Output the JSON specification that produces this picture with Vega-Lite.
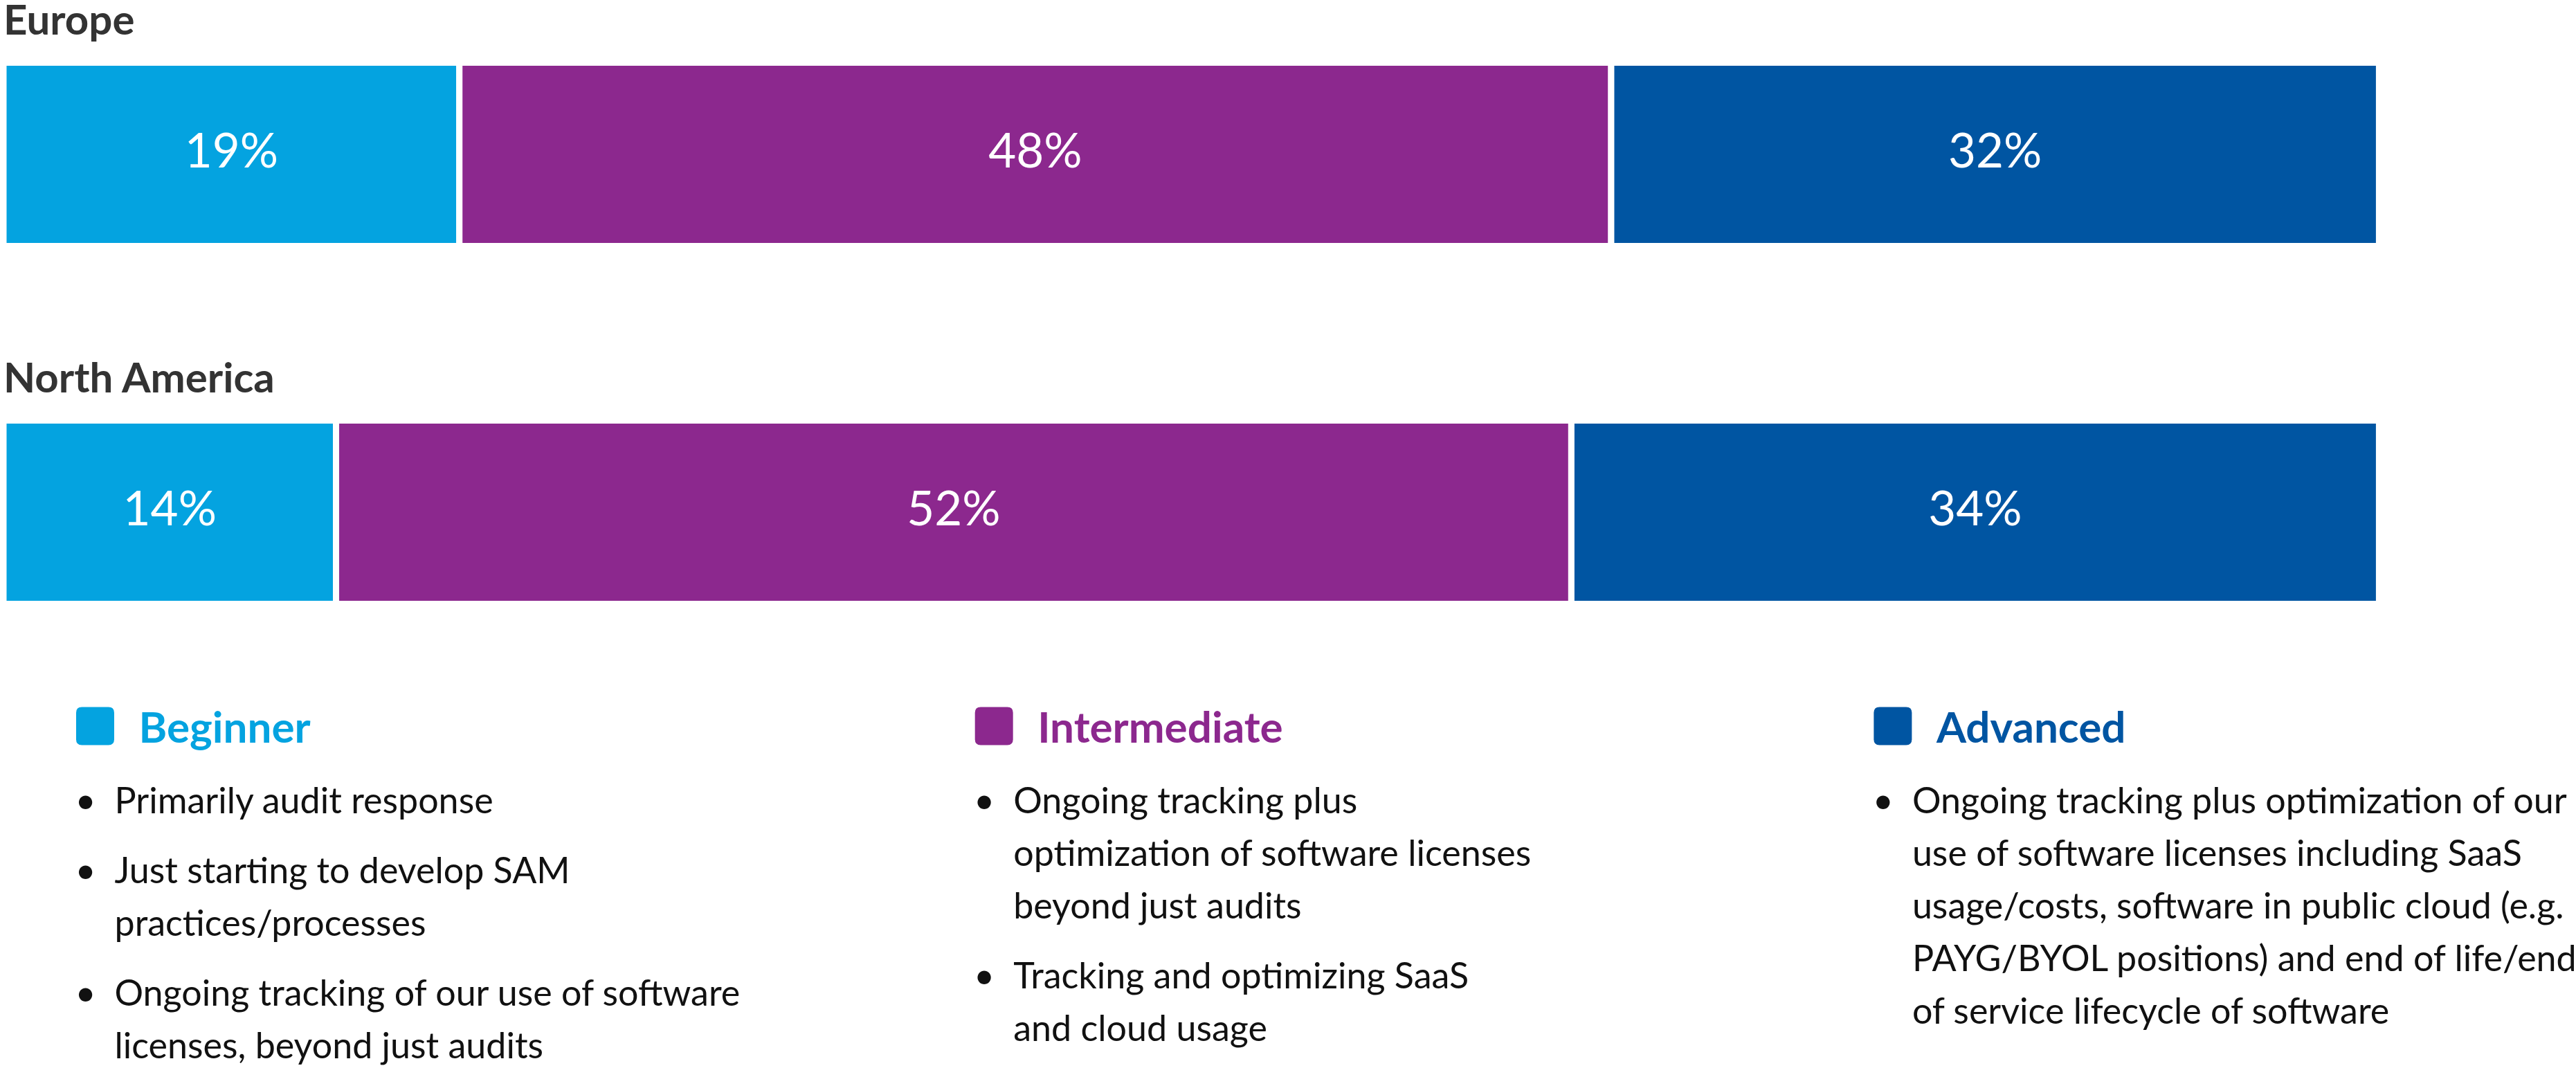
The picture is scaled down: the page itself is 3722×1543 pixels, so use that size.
{
  "$schema": "https://vega.github.io/schema/vega-lite/v6.json",
  "width": 3722,
  "height": 1543,
  "autosize": {"type": "fit", "contains": "padding"},
  "padding": 0,
  "background": "white",
  "config": {"view": {"stroke": null}, "font": "Lato", "text": {"font": "Lato"}},
  "datasets": {
    "shares": [
      {"region": "Europe", "level": "Beginner", "rank": 1, "share": 0.19},
      {"region": "Europe", "level": "Intermediate", "rank": 2, "share": 0.48},
      {"region": "Europe", "level": "Advanced", "rank": 3, "share": 0.32},
      {"region": "North America", "level": "Beginner", "rank": 1, "share": 0.14},
      {"region": "North America", "level": "Intermediate", "rank": 2, "share": 0.52},
      {"region": "North America", "level": "Advanced", "rank": 3, "share": 0.34}
    ],
    "regions": [{"region": "Europe"}, {"region": "North America"}],
    "levels": [{"level": "Beginner"}, {"level": "Intermediate"}, {"level": "Advanced"}],
    "notes": [
      {"level": "Beginner", "item": 1, "line": 1, "bullet": "•", "text": "Primarily audit response"},
      {"level": "Beginner", "item": 2, "line": 2, "bullet": "•", "text": "Just starting to develop SAM"},
      {"level": "Beginner", "item": 2, "line": 3, "bullet": "", "text": "practices/processes"},
      {"level": "Beginner", "item": 3, "line": 4, "bullet": "•", "text": "Ongoing tracking of our use of software"},
      {"level": "Beginner", "item": 3, "line": 5, "bullet": "", "text": "licenses, beyond just audits"},
      {"level": "Intermediate", "item": 1, "line": 1, "bullet": "•", "text": "Ongoing tracking plus"},
      {"level": "Intermediate", "item": 1, "line": 2, "bullet": "", "text": "optimization of software licenses"},
      {"level": "Intermediate", "item": 1, "line": 3, "bullet": "", "text": "beyond just audits"},
      {"level": "Intermediate", "item": 2, "line": 4, "bullet": "•", "text": "Tracking and optimizing SaaS"},
      {"level": "Intermediate", "item": 2, "line": 5, "bullet": "", "text": "and cloud usage"},
      {"level": "Advanced", "item": 1, "line": 1, "bullet": "•", "text": "Ongoing tracking plus optimization of our"},
      {"level": "Advanced", "item": 1, "line": 2, "bullet": "", "text": "use of software licenses including SaaS"},
      {"level": "Advanced", "item": 1, "line": 3, "bullet": "", "text": "usage/costs, software in public cloud (e.g."},
      {"level": "Advanced", "item": 1, "line": 4, "bullet": "", "text": "PAYG/BYOL positions) and end of life/end"},
      {"level": "Advanced", "item": 1, "line": 5, "bullet": "", "text": "of service lifecycle of software"}
    ]
  },
  "layer": [
    {
      "layer": [
        {
          "data": {"name": "shares"},
          "mark": {"type": "bar", "stroke": "white", "strokeWidth": 9},
          "encoding": {
            "y": {"field": "region", "type": "nominal", "scale": {"type": "band", "domain": ["Europe", "North America"], "paddingInner": 0.4874, "paddingOuter": 0.736, "align": 0.119}, "axis": null},
            "x": {"field": "share", "type": "quantitative", "stack": "normalize", "scale": {"domain": [0, 1.08], "nice": false, "zero": true}, "axis": null},
            "color": {"field": "level", "type": "nominal", "scale": {"domain": ["Beginner", "Intermediate", "Advanced"], "range": ["#04A3E0", "#8C288E", "#0055A2"]}, "legend": null},
            "order": {"field": "rank", "type": "quantitative"}
          }
        },
        {
          "data": {"name": "shares"},
          "mark": {"type": "text", "color": "white", "fontSize": 69, "baseline": "alphabetic", "dy": 19},
          "encoding": {
            "y": {"field": "region", "type": "nominal"},
            "x": {"field": "share", "type": "quantitative", "stack": "normalize", "bandPosition": 0.5},
            "detail": {"field": "level"},
            "order": {"field": "rank", "type": "quantitative"},
            "text": {"field": "share", "type": "quantitative", "format": ".0%"}
          }
        },
        {
          "data": {"name": "regions"},
          "mark": {"type": "text", "align": "left", "baseline": "alphabetic", "fontSize": 60, "fontWeight": "bold", "color": "#333333", "dy": -41},
          "encoding": {
            "y": {"field": "region", "type": "nominal", "bandPosition": 0},
            "x": {"datum": 0, "type": "quantitative"},
            "text": {"field": "region"}
          }
        }
      ]
    },
    {
      "layer": [
        {
          "data": {"name": "levels"},
          "mark": {"type": "point", "filled": true, "opacity": 1, "size": 3025, "shape": "M-0.7,-1H0.7Q1,-1 1,-0.7V0.7Q1,1 0.7,1H-0.7Q-1,1 -1,0.7V-0.7Q-1,-1 -0.7,-1Z"},
          "encoding": {
            "x": {"field": "level", "type": "nominal", "scale": {"type": "point", "domain": ["Beginner", "Intermediate", "Advanced"], "padding": 0.4272, "align": 0.1194}, "axis": null},
            "y": {"datum": -1, "type": "ordinal", "scale": {"type": "band", "domain": [-1, 0, 1, 2, 3, 4, 5], "range": [1011, 1543], "paddingInner": 0, "paddingOuter": 0}, "axis": null},
            "color": {"field": "level", "type": "nominal", "legend": null}
          }
        },
        {
          "data": {"name": "levels"},
          "mark": {"type": "text", "align": "left", "baseline": "alphabetic", "fontSize": 62, "fontWeight": "bold", "dx": 63, "dy": 24},
          "encoding": {
            "x": {"field": "level", "type": "nominal"},
            "y": {"datum": -1, "type": "ordinal"},
            "color": {"field": "level", "type": "nominal", "legend": null},
            "text": {"field": "level"}
          }
        },
        {
          "data": {"name": "notes"},
          "mark": {"type": "text", "align": "center", "baseline": "alphabetic", "fontSize": 52, "color": "#111111", "dx": -14, "dy": -1},
          "encoding": {
            "x": {"field": "level", "type": "nominal"},
            "y": {"field": "line", "type": "ordinal"},
            "yOffset": {"field": "item", "type": "ordinal", "scale": {"domain": [1, 2, 3]}},
            "text": {"field": "bullet"}
          }
        },
        {
          "data": {"name": "notes"},
          "mark": {"type": "text", "align": "left", "baseline": "alphabetic", "fontSize": 52, "color": "#111111", "dx": 28, "dy": -1},
          "encoding": {
            "x": {"field": "level", "type": "nominal"},
            "y": {"field": "line", "type": "ordinal"},
            "yOffset": {"field": "item", "type": "ordinal", "scale": {"domain": [1, 2, 3]}},
            "text": {"field": "text"}
          }
        }
      ]
    }
  ],
  "resolve": {"scale": {"x": "independent", "y": "independent", "yOffset": "independent"}}
}
